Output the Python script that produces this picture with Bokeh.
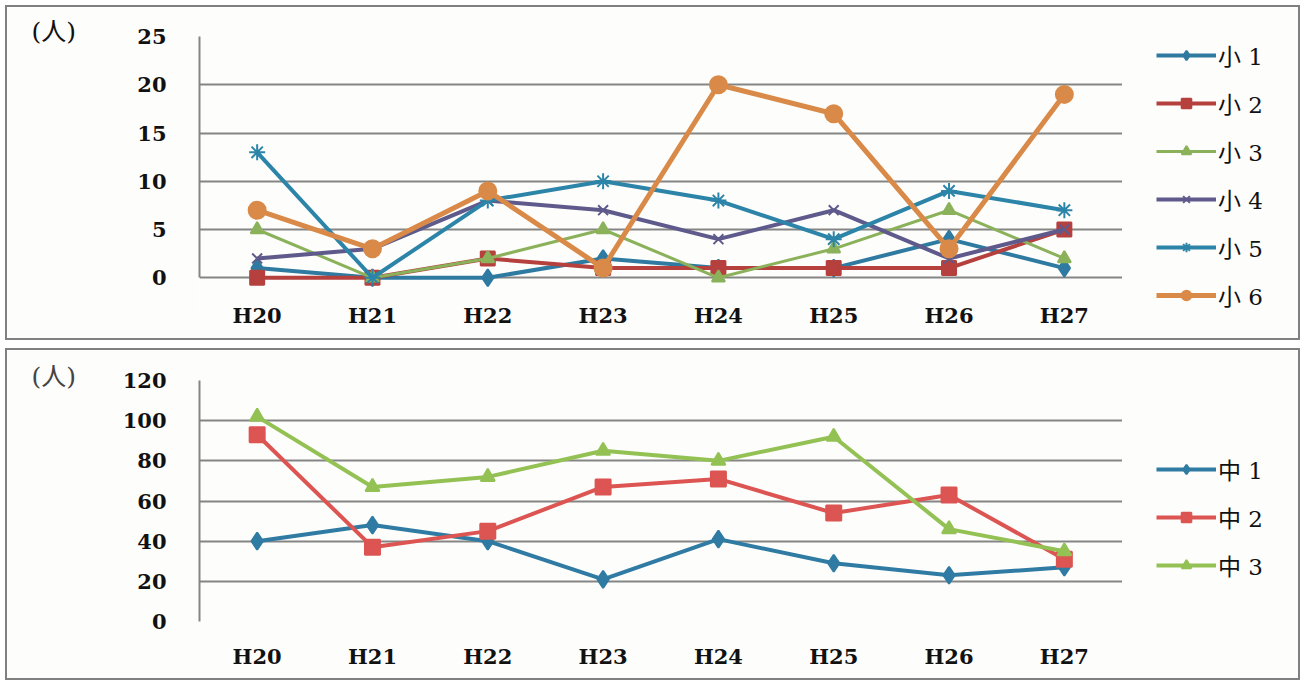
from bokeh.plotting import figure
from bokeh.models import Range1d, Legend, LegendItem, FixedTicker, BoxAnnotation
from bokeh.layouts import column
from bokeh.embed import file_html
from bokeh.resources import INLINE

years = ["H20", "H21", "H22", "H23", "H24", "H25", "H26", "H27"]

sho_names = ["小 1", "小 2", "小 3", "小 4", "小 5", "小 6"]
sho1 = [1, 0, 0, 2, 1, 1, 4, 1]
sho2 = [0, 0, 2, 1, 1, 1, 1, 5]
sho3 = [5, 0, 2, 5, 0, 3, 7, 2]
sho4 = [2, 3, 8, 7, 4, 7, 2, 5]
sho5 = [13, 0, 8, 10, 8, 4, 9, 7]
sho6 = [7, 3, 9, 1, 20, 17, 3, 19]
sho_ticks = [0, 5, 10, 15, 20, 25]

chu_names = ["中 1", "中 2", "中 3"]
chu1 = [40, 48, 40, 21, 41, 29, 23, 27]
chu2 = [93, 37, 45, 67, 71, 54, 63, 31]
chu3 = [102, 67, 72, 85, 80, 92, 46, 35]
chu_ticks = [0, 20, 40, 60, 80, 100, 120]

unit_label = "(人)"

FONT = "'DejaVu Serif', 'Noto Sans CJK JP', serif"
BG = "#fdfdfb"

xidx = list(range(len(years)))          # category positions on the x scale
CAT_PX = 115                            # pixels per category
X_END = -0.5 + 1100 / CAT_PX            # frame runs on under the legend


def make_fig(height, y_start, ymax, ticks, left, top, bottom, margin, unit_color,
             x_standoff, title_standoff):
    p = figure(width=1295, height=height,
               x_range=Range1d(-0.5, X_END),
               y_range=Range1d(y_start, ymax),
               output_backend="svg", toolbar_location=None,
               min_border_left=left, min_border_right=0,
               min_border_top=top, min_border_bottom=bottom)
    p.margin = margin
    p.background_fill_color = BG
    p.border_fill_color = BG
    p.outline_line_color = None
    p.styles = {"border": "2px solid #808080", "box-sizing": "border-box"}
    p.title.text = unit_label
    p.title.align = "left"
    p.title.offset = -168
    p.title.standoff = title_standoff
    p.title.text_font = FONT
    p.title.text_font_size = "25px"
    p.title.text_font_style = "normal"
    p.title.text_color = unit_color
    p.xgrid.grid_line_color = None
    p.ygrid.ticker = FixedTicker(ticks=ticks)
    p.ygrid.grid_line_color = "#858585"
    p.ygrid.grid_line_width = 2
    p.yaxis.ticker = FixedTicker(ticks=ticks)
    p.yaxis.bounds = (0, ymax)
    p.yaxis.axis_line_color = "#858585"
    p.yaxis.axis_line_width = 2
    p.yaxis.major_tick_line_color = None
    p.yaxis.minor_tick_line_color = None
    p.yaxis.major_label_standoff = 27
    p.xaxis.ticker = FixedTicker(ticks=xidx)
    p.xaxis.major_label_overrides = {i: y for i, y in zip(xidx, years)}
    p.xaxis.axis_line_color = None
    p.xaxis.major_tick_line_color = None
    p.xaxis.minor_tick_line_color = None
    p.xaxis.major_tick_out = 0
    p.xaxis.major_label_standoff = x_standoff
    for ax in (p.xaxis, p.yaxis):
        ax.major_label_text_font = FONT
        ax.major_label_text_font_size = "21px"
        ax.major_label_text_font_style = "bold"
        ax.major_label_text_color = "#111111"
    # blank the grid to the right of the last category, where the legend sits
    p.add_layout(BoxAnnotation(left=xidx[-1] + 0.5, fill_color=BG, fill_alpha=1.0,
                               line_color=None))
    return p


def add_series(p, values, color, marker, size, lw):
    r1 = p.line(xidx, values, line_color=color, line_width=lw)
    r2 = p.scatter(xidx, values, marker=marker, size=size,
                   fill_color=color, line_color=color, line_width=2)
    return [r1, r2]


def style_legend(lg):
    lg.border_line_color = None
    lg.background_fill_alpha = 0
    lg.padding = 0
    lg.margin = 0
    lg.glyph_width = 60
    lg.glyph_height = 24
    lg.label_height = 24
    lg.spacing = 14
    lg.label_standoff = 2
    lg.label_text_font = FONT
    lg.label_text_font_size = "23px"
    lg.label_text_color = "#111111"


# ---------------- top chart ----------------
p1 = make_fig(335, -3.6, 25, sho_ticks, 190, 29, 30, (5, 0, 0, 5), "#111111", -10, -18)
sho_vals = [sho1, sho2, sho3, sho4, sho5, sho6]
sho_colors = ["#2f7aa1", "#b5403e", "#8bb25a", "#5e5a8b", "#2c84a8", "#d98a48"]
sho_markers = ["diamond", "square", "triangle", "x", "asterisk", "circle"]
sho_sizes = [17, 14, 13, 14, 16, 17]
sho_lw = [4, 4, 3, 4, 4, 5]
items1 = []
for name, vals, c, m, s, w in zip(sho_names, sho_vals, sho_colors, sho_markers, sho_sizes, sho_lw):
    items1.append(LegendItem(label=name, renderers=add_series(p1, vals, c, m, s, w)))
lg1 = Legend(items=items1, location=(957, 0))
style_legend(lg1)
p1.add_layout(lg1)

# ---------------- bottom chart ----------------
p2 = make_fig(332, 0, 120, chu_ticks, 192, 30, 61, (0, 0, 0, 5), "#444444", 22, -20)
chu_vals = [chu1, chu2, chu3]
chu_colors = ["#2f7ba3", "#dc5552", "#93c154"]
chu_markers = ["diamond", "square", "triangle"]
chu_sizes = [17, 15, 14]
items2 = []
for name, vals, c, m, s in zip(chu_names, chu_vals, chu_colors, chu_markers, chu_sizes):
    items2.append(LegendItem(label=name, renderers=add_series(p2, vals, c, m, s, 4)))
lg2 = Legend(items=items2, location=(957, 39))
style_legend(lg2)
p2.add_layout(lg2)

layout = column(p1, p2, spacing=8)
open("out.html", "w").write(file_html(layout, INLINE))
